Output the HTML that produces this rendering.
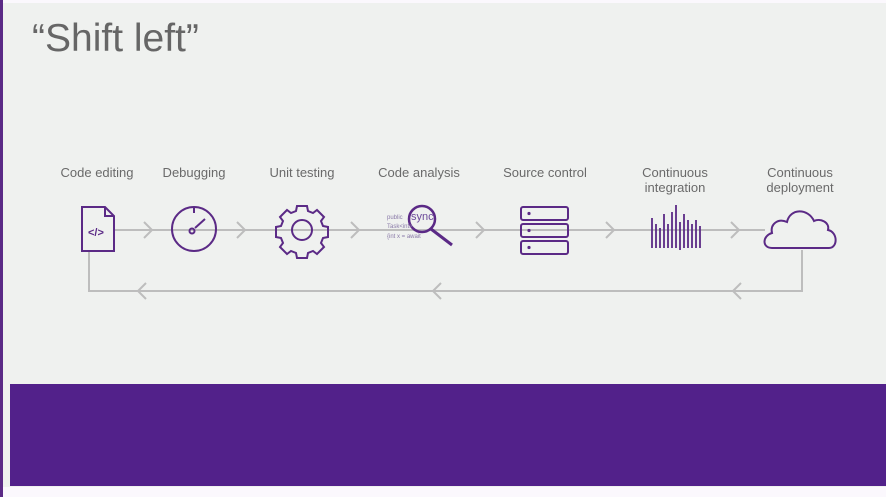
<!DOCTYPE html>
<html><head><meta charset="utf-8"><style>
html,body{margin:0;padding:0;}
body{width:886px;height:497px;position:relative;background:#fbf8fd;overflow:hidden;font-family:"Liberation Sans",sans-serif;}
.slide{position:absolute;left:3px;top:3px;width:883px;height:484px;background:#eff1ef;}
.lb{position:absolute;left:0;top:0;width:3px;height:497px;background:#5b2a86;}
.band{position:absolute;left:10px;top:384px;width:876px;height:102px;background:#52218a;}
.title{position:absolute;left:32px;top:17px;font-size:39px;color:#666;font-weight:300;letter-spacing:0px;}
.lab{position:absolute;font-size:13px;color:#6a6a6a;text-align:center;line-height:15px;transform:translateX(-50%);white-space:nowrap;}
</style></head><body>
<div class="slide"></div>
<div class="lb"></div>
<div class="title">“Shift left”</div>
<div class="lab" style="left:97px;top:165px">Code editing</div>
<div class="lab" style="left:194px;top:165px">Debugging</div>
<div class="lab" style="left:302px;top:165px">Unit testing</div>
<div class="lab" style="left:419px;top:165px">Code analysis</div>
<div class="lab" style="left:545px;top:165px">Source control</div>
<div class="lab" style="left:675px;top:165px">Continuous<br>integration</div>
<div class="lab" style="left:800px;top:165px">Continuous<br>deployment</div>
<svg width="886" height="497" style="position:absolute;left:0;top:0">
<g fill="none" stroke="#bdbdbd" stroke-width="2">
<line x1="114" y1="230" x2="765" y2="230"/>
<polyline points="802,250 802,291 89,291 89,252"/>
<polyline points="144,222 152,230 144,238"/>
<polyline points="237,222 245,230 237,238"/>
<polyline points="351,222 359,230 351,238"/>
<polyline points="476,222 484,230 476,238"/>
<polyline points="606,222 614,230 606,238"/>
<polyline points="731,222 739,230 731,238"/>
<polyline points="146,283 138,291 146,299"/>
<polyline points="441,283 433,291 441,299"/>
<polyline points="741,283 733,291 741,299"/>
</g>
<g fill="none" stroke="#5b2a86" stroke-width="2">
<path d="M82,207 H105 L114,216 V251 H82 Z M105,207 V216 H114"/>
<circle cx="194" cy="229" r="22"/>
<line x1="194" y1="208" x2="194" y2="213"/>
<circle cx="192" cy="231" r="2.5"/>
<line x1="195" y1="228" x2="205" y2="219"/>
<path d="M297,206 h10 l1,5 5,2 4,-3 7,7 -3,4 2,5 5,1 v10 l-5,1 -2,5 3,4 -7,7 -4,-3 -5,2 -1,5 h-10 l-1,-5 -5,-2 -4,3 -7,-7 3,-4 -2,-5 -5,-1 v-10 l5,-1 2,-5 -3,-4 7,-7 4,3 5,-2 z"/>
<circle cx="302" cy="230" r="10"/>
<circle cx="422" cy="219" r="13" stroke-width="2.5"/>
<line x1="431" y1="229" x2="452" y2="245" stroke-width="3"/>
<rect x="521" y="207" width="47" height="13" rx="2"/>
<rect x="521" y="224" width="47" height="13" rx="2"/>
<rect x="521" y="241" width="47" height="13" rx="2"/>
<path d="M652,218v30M656,224v24M660,228v20M664,214v34M668,224v24M672,212v36M676,205v43M680,222v28M684,214v34M688,220v28M692,224v24M696,220v28M700,226v22" stroke-width="1.8"/>
<path d="M772,248 H829 C838,248 838,232 828,230 C830,222 820,218 814,221 C808,208 790,208 787,222 C778,218 770,224 772,233 C762,236 762,248 772,248 Z"/>
</g>
<g fill="#5b2a86"><circle cx="529" cy="213.5" r="1.6"/><circle cx="529" cy="230.5" r="1.6"/><circle cx="529" cy="247.5" r="1.6"/></g>
<text x="88" y="236" font-size="11" font-weight="bold" fill="#5b2a86" font-family="Liberation Sans">&lt;/&gt;</text>
<g font-family="Liberation Sans" fill="#8a7aa8">
<text x="387" y="219" font-size="6">public</text>
<text x="411" y="220" font-size="11" fill="#6c4a9a">sync</text>
<text x="387" y="228" font-size="6">Task&lt;int&gt;</text>
<text x="387" y="238" font-size="6">{int x = await</text>
</g>
</svg>
<div class="band"></div>
</body></html>
